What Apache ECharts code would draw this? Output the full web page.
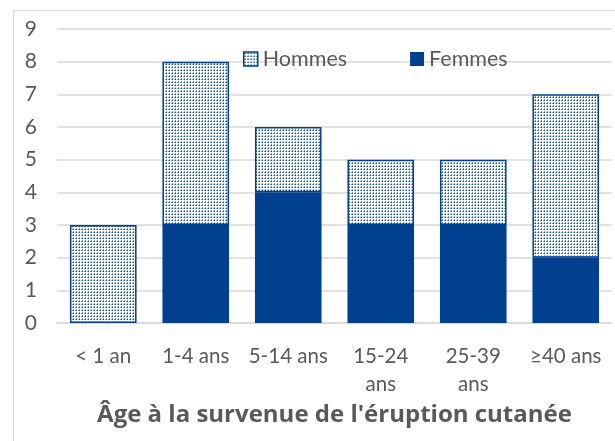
<!DOCTYPE html>
<html><head><meta charset="utf-8">
<script src="https://cdn.jsdelivr.net/npm/echarts@6/dist/echarts.min.js"></script>
<style>html,body{margin:0;padding:0;background:#fff}#c{width:615px;height:441px}
#frame{position:absolute;left:13px;top:10px;width:620px;height:450px;border:1.5px solid #d9d9d9;box-sizing:border-box;pointer-events:none}</style>
</head><body><div id="c"></div><div id="frame"></div>
<script>
const categories = ['< 1 an', '1-4 ans', '5-14 ans', '15-24\nans', '25-39\nans', '≥40 ans'];
const femmes = [0, 3, 4, 3, 3, 2];
const hommes = [3, 5, 2, 2, 2, 5];
const yTicks = [0, 1, 2, 3, 4, 5, 6, 7, 8, 9];
const xTitle = "Âge à la survenue de l'éruption cutanée";

const BLUE = '#00408F';
const cv = document.createElement('canvas');
cv.width = 3; cv.height = 3;
const cx = cv.getContext('2d');
cx.fillStyle = '#ffffff'; cx.fillRect(0, 0, 3, 3);
cx.fillStyle = '#1a55a8'; cx.fillRect(1, 1, 1, 1);
cx.fillStyle = 'rgba(26,85,168,0.6)'; cx.fillRect(1, 0, 1, 1); cx.fillRect(0, 1, 1, 1);
const pattern = { image: cv, repeat: 'repeat' };

const FONT = 'Lato';
const chart = echarts.init(document.getElementById('c'), null, { renderer: 'canvas' });
chart.setOption({
  animation: false,
  textStyle: { fontFamily: FONT },
  grid: { left: 57, right: 3, top: 29, bottom: 118 },
  legend: {
    top: 43, left: 238, itemGap: 63, itemWidth: 14, itemHeight: 14,
    icon: 'rect',
    textStyle: { fontSize: 21.5, color: '#595959', fontFamily: FONT, padding: [0, 0, 0, 0] },
    data: [
      { name: 'Hommes', itemStyle: { color: pattern, borderColor: BLUE, borderWidth: 1.5 } },
      { name: 'Femmes', itemStyle: { color: BLUE } }
    ]
  },
  xAxis: {
    type: 'category', data: categories,
    axisLine: { show: true, lineStyle: { color: '#d9d9d9', width: 1.5 } },
    axisTick: { show: false },
    axisLabel: { color: '#595959', fontSize: 20.5, margin: 19, lineHeight: 28, interval: 0 },
    name: xTitle, nameLocation: 'middle', nameGap: 75,
    nameTextStyle: { color: '#595959', fontSize: 24, fontWeight: 'bold', fontFamily: 'Open Sans' }
  },
  yAxis: {
    type: 'value', min: 0, max: 9, interval: 1,
    axisLine: { show: false }, axisTick: { show: false },
    splitLine: { lineStyle: { color: '#d9d9d9', width: 1.5 } },
    axisLabel: { color: '#595959', fontSize: 21, margin: 20,
      formatter: v => yTicks.includes(v) ? String(v) : '' }
  },
  series: [
    { name: 'Femmes', type: 'bar', stack: 'a', data: femmes, barWidth: '72%',
      itemStyle: { color: BLUE } },
    { name: 'Hommes', type: 'bar', stack: 'a', data: hommes, barWidth: '72%',
      itemStyle: { color: pattern, borderColor: BLUE, borderWidth: 1.5 } }
  ]
});
</script></body></html>
